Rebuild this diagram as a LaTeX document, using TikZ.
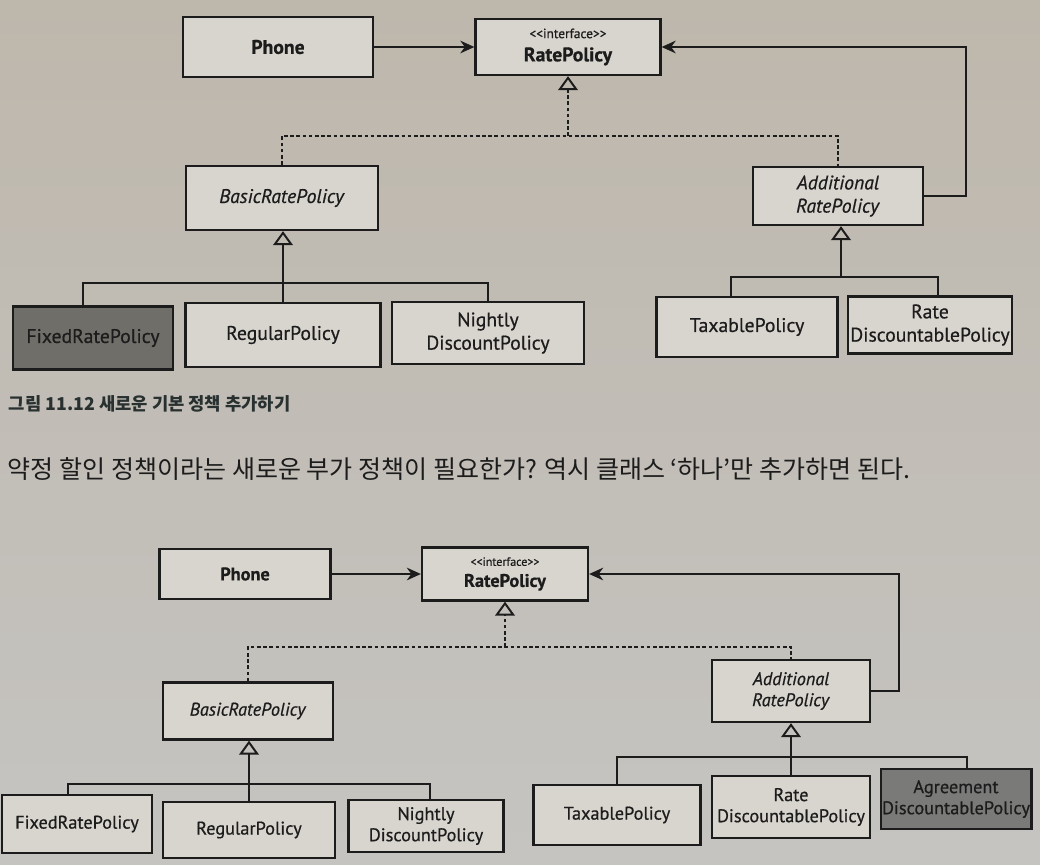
\documentclass[tikz,border=0pt]{standalone}
\usepackage{fontspec}
\setmainfont{PT Sans}[FakeBold=0.6]
\newfontfamily\kr{Noto Sans CJK KR}
\usetikzlibrary{arrows.meta}

\definecolor{papertop}{RGB}{190,183,172}
\definecolor{papermid}{RGB}{204,200,193}
\definecolor{paperlow}{RGB}{197,196,193}
\definecolor{boxfill}{RGB}{216,213,207}
\definecolor{boxdark}{RGB}{112,110,105}
\definecolor{boxdarktoo}{RGB}{122,122,120}
\definecolor{ink}{RGB}{28,28,28}
\definecolor{captionink}{RGB}{40,48,48}

\tikzset{
    cls/.style={draw=ink, line width=1.6pt, fill=boxfill, text=ink, align=center, inner sep=1pt},
    link/.style={draw=ink, line width=1.4pt},
    assoc/.style={link, -{Stealth[length=10pt,width=9pt]}},
    inherit/.style={link, -{Triangle[open,length=10pt,width=14pt]}},
    realize/.style={link, dash pattern=on 2.6pt off 1.8pt}
}

\begin{document}
\begin{tikzpicture}[x=0.025cm, y=-0.025cm]
    \shade[top color=papertop, middle color=papermid, bottom color=paperlow] (0,0) rectangle (1040,864);
    \useasboundingbox (0,0) rectangle (1040,864);

    \begin{scope}[cls/.append style={font=\fontsize{14}{16.5}\selectfont}]
        \node[cls, minimum width=4.75cm, minimum height=1.5cm] (phone1) at (278,47) {\textbf{Phone}};
        \node[cls, minimum width=4.625cm, minimum height=1.4cm] (rate1) at (568,47)
            {{\fontsize{9.5}{10.5}\selectfont <{}<interface>{}>}\\\textbf{RatePolicy}};
        \node[cls, minimum width=4.8cm, minimum height=1.6cm] (basic1) at (282,198) {\textit{BasicRatePolicy}};
        \node[cls, minimum width=4.25cm, minimum height=1.45cm] (add1) at (838,196) {\textit{Additional}\\\textit{RatePolicy}};
        \node[cls, fill=boxdark, minimum width=4cm, minimum height=1.575cm] (fixed1) at (93,338) {FixedRatePolicy};
        \node[cls, minimum width=4.875cm, minimum height=1.6cm] (regular1) at (283,335) {RegularPolicy};
        \node[cls, minimum width=4.8cm, minimum height=1.55cm] (nightly1) at (488,333) {Nightly\\DiscountPolicy};
        \node[cls, minimum width=4.525cm, minimum height=1.5cm] (taxable1) at (747,327) {TaxablePolicy};
        \node[cls, minimum width=4.1cm, minimum height=1.425cm] (ratedisc1) at (930,325) {Rate\\DiscountablePolicy};

        \coordinate (real1) at (568,136);
        \coordinate (bar1) at (283,283);
        \coordinate (bar2) at (841,277);

        \draw[assoc] (phone1) -- (rate1);
        \draw[assoc] (add1.east) -- ++(42,0) |- (rate1.east);
        \draw[realize] (basic1.north) |- (real1) -| (add1.north);
        \draw[realize, -{Triangle[open,length=10pt,width=14pt]}] (real1) -- (rate1.south);
        \draw[inherit] (regular1.north) -- (regular1.north |- basic1.south);
        \draw[link] ([xshift=-0.25cm]fixed1.north) |- (bar1) -| (nightly1.north);
        \draw[inherit] (bar2) -- (bar2 |- add1.south);
        \draw[link] ([xshift=-0.4cm]taxable1.north) |- (bar2) -| ([xshift=0.2cm]ratedisc1.north);
    \end{scope}

    \node[anchor=west, text=captionink, font=\kr\bfseries\fontsize{12.6}{14}\selectfont] (caption1) at (4,404)
        {그림 11.12 새로운 기본 정책 추가하기};
    \node[anchor=west, text=ink, font=\kr\fontsize{17.8}{20}\selectfont] (sentence1) at (3,469)
        {약정 할인 정책이라는 새로운 부가 정책이 필요한가? 역시 클래스 ‘하나’만 추가하면 된다.};

    \begin{scope}[cls/.append style={font=\fontsize{13}{15}\selectfont}]
        \node[cls, minimum width=4.275cm, minimum height=1.25cm] (phone2) at (245,574) {\textbf{Phone}};
        \node[cls, minimum width=4.15cm, minimum height=1.325cm] (rate2) at (505,574)
            {{\fontsize{8.5}{9.5}\selectfont <{}<interface>{}>}\\\textbf{RatePolicy}};
        \node[cls, minimum width=4.25cm, minimum height=1.425cm] (basic2) at (248,711) {\textit{BasicRatePolicy}};
        \node[cls, minimum width=3.95cm, minimum height=1.55cm] (add2) at (791,691) {\textit{Additional}\\\textit{RatePolicy}};
        \node[cls, minimum width=3.75cm, minimum height=1.45cm] (fixed2) at (77,824) {FixedRatePolicy};
        \node[cls, minimum width=4.3cm, minimum height=1.4cm] (regular2) at (249,830) {RegularPolicy};
        \node[cls, minimum width=3.875cm, minimum height=1.3cm] (nightly2) at (426,826) {Nightly\\DiscountPolicy};
        \node[cls, minimum width=4.175cm, minimum height=1.5cm] (taxable2) at (617,815) {TaxablePolicy};
        \node[cls, minimum width=3.95cm, minimum height=1.55cm] (ratedisc2) at (791,807) {Rate\\DiscountablePolicy};
        \node[cls, fill=boxdarktoo, minimum width=3.7cm, minimum height=1.5cm] (agree2) at (956,799) {Agreement\\DiscountablePolicy};

        \coordinate (real2) at (505,647);
        \coordinate (bar3) at (248,784);
        \coordinate (bar4) at (791,757);

        \draw[assoc] (phone2) -- (rate2);
        \draw[assoc] (add2.east) -- ++(28,0) |- (rate2.east);
        \draw[realize] (basic2.north) |- (real2) -| (add2.north);
        \draw[realize, -{Triangle[open,length=10pt,width=14pt]}] (real2) -- (rate2.south);
        \draw[inherit] (regular2.north) -- (regular2.north |- basic2.south);
        \draw[link] ([xshift=-0.225cm]fixed2.north) |- (bar3) -| ([xshift=0.1cm]nightly2.north);
        \draw[inherit] (ratedisc2.north) -- (ratedisc2.north |- add2.south);
        \draw[link] (taxable2.north) |- (bar4) -| ([xshift=0.275cm]agree2.north);
    \end{scope}
\end{tikzpicture}
\end{document}
